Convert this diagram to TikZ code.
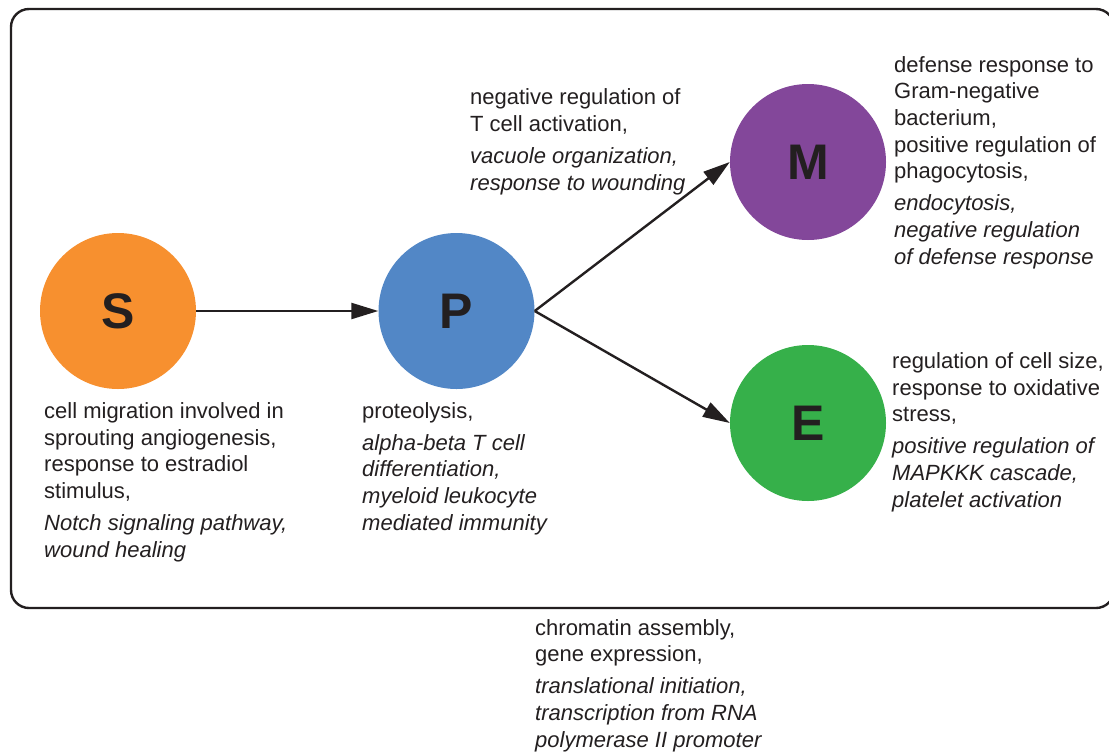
\documentclass[tikz,border=0pt]{standalone}
\usepackage{fontspec}
\setmainfont{Liberation Sans}
\usetikzlibrary{arrows.meta}
\definecolor{ink}{HTML}{231F20}
\definecolor{cS}{HTML}{F7902F}
\definecolor{cP}{HTML}{5287C6}
\definecolor{cM}{HTML}{83479A}
\definecolor{cE}{HTML}{36B04A}
\begin{document}
\begin{tikzpicture}[x=1pt,y=-1pt,
  state/.style={circle,minimum size=156pt,inner sep=0pt,draw=none,text=ink,
    font=\fontsize{50}{50}\selectfont\bfseries},
  desc/.style={anchor=base west,align=left,inner sep=0pt,text=ink,
    font=\fontsize{22}{26.6}\selectfont},
  link/.style={draw=ink,line width=2.4pt,-{Triangle[length=27pt,width=16pt]}}]
\useasboundingbox (0,0) rectangle (1109,753);
\draw[ink,line width=2.4pt,rounded corners=18pt] (11,9) rectangle (1114,608);
\node[state,fill=cS] (S) at (118,311) {S};
\node[state,fill=cP] (P) at (456.5,311) {P};
\node[state,fill=cM] (M) at (808,162) {M};
\node[state,fill=cE] (E) at (808,423) {E};
\draw[link] (S.east) -- (P.west);
\draw[link] (P.east) -- (M.west);
\draw[link] (P.east) -- (E.west);
\node[desc] (tS) at (44,557) {cell migration involved in\\sprouting angiogenesis,\\response to estradiol\\stimulus,\\[5.6pt]\itshape Notch signaling pathway,\\\itshape wound healing};
\node[desc] (tP) at (362,530) {proteolysis,\\[5.6pt]\itshape alpha-beta T cell\\\itshape differentiation,\\\itshape myeloid leukocyte\\\itshape mediated immunity};
\node[desc] (tPM) at (470,190) {negative regulation of\\T cell activation,\\[5.6pt]\itshape vacuole organization,\\\itshape response to wounding};
\node[desc] (tM) at (894,264) {defense response to\\Gram-negative\\bacterium,\\positive regulation of\\phagocytosis,\\[5.6pt]\itshape endocytosis,\\\itshape negative regulation\\\itshape of defense response};
\node[desc] (tE) at (892,507) {regulation of cell size,\\response to oxidative\\stress,\\[5.6pt]\itshape positive regulation of\\\itshape MAPKKK cascade,\\\itshape platelet activation};
\node[desc] (tB) at (535,747) {chromatin assembly,\\gene expression,\\[5.6pt]\itshape translational initiation,\\\itshape transcription from RNA\\\itshape polymerase II promoter};
\end{tikzpicture}
\end{document}
